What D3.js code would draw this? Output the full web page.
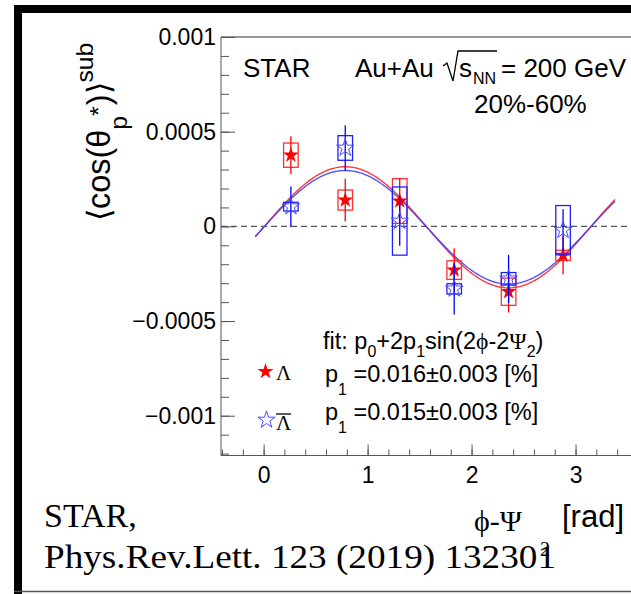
<!DOCTYPE html>
<html>
<head>
<meta charset="utf-8">
<script src="https://cdn.jsdelivr.net/npm/d3@7"></script>
<style>
  body { margin: 0; background: #fff; }
  text { font-family: "Liberation Sans", Arial, sans-serif; }
  .serif { font-family: "Liberation Serif", "Times New Roman", serif; }
</style>
</head>
<body>
<svg id="myGraph" width="631" height="594"></svg>
<script>
// phi - Psi2 bin centres [rad]
var phiBins = [0.262, 0.785, 1.309, 1.833, 2.356, 2.880];

// Lambda
var lamVal  = [0.000376, 0.000139, 0.000134, -0.000231, -0.000345, -0.000153];
var lamStat = [0.000100, 0.000113, 0.000120, 0.000116, 0.000110, 0.000100];
var lamSys  = [0.000064, 0.000053, 0.000118, 0.000049, 0.000072, 0.000027];

// anti-Lambda
var alamVal  = [0.000104, 0.000414, 0.000028, -0.000330, -0.000277, -0.000020];
var alamStat = [0.000107, 0.000120, 0.000130, 0.000136, 0.000127, 0.000110];
var alamSys  = [0.000023, 0.000065, 0.000180, 0.000027, 0.000033, 0.000130];

// fit p0 + 2 p1 sin(2(phi-Psi2)) : [Lambda, anti-Lambda]
var fitP0 = [-0.000005, -0.000005];
var fitP1 = [0.00016, 0.00015];
var fitRange = [-0.08, 3.38];

var yTicks = [-0.001, -0.0005, 0, 0.0005, 0.001];
var yTickLabels = ['\u22120.001', '\u22120.0005', '0', '0.0005', '0.001'];
var xTicks = [0, 1, 2, 3];

var svg = d3.select('#myGraph');

var x = d3.scaleLinear().domain([-0.41, 3.62]).range([221, 640]);
var y = d3.scaleLinear().domain([-0.00121, 0.001]).range([455.5, 37]);

// outer frame
svg.append('rect').attr('x', 14).attr('y', 5).attr('width', 640).attr('height', 8).attr('fill', '#000');
svg.append('rect').attr('x', 14).attr('y', 5).attr('width', 8).attr('height', 589).attr('fill', '#000');
svg.append('line').attr('x1', 14).attr('x2', 631).attr('y1', 591.5).attr('y2', 591.5)
  .attr('stroke', '#555').attr('stroke-width', 1.5);

// plot frame top
svg.append('line').attr('x1', 221).attr('x2', 640).attr('y1', 37).attr('y2', 37)
  .attr('stroke', '#333').attr('stroke-width', 1);

// minor ticks
var yMinor = d3.range(-12, 11).map(function(i) { return i * 0.0001; });
svg.append('g')
  .attr('transform', 'translate(221,0)')
  .call(d3.axisLeft(y).tickValues(yMinor).tickSize(-8).tickFormat(''))
  .call(function(g) { g.select('.domain').remove(); g.selectAll('line').attr('stroke', '#555'); });

var xMinor = d3.range(-2, 18).map(function(i) { return i * 0.2; });
svg.append('g')
  .attr('transform', 'translate(0,455.5)')
  .call(d3.axisBottom(x).tickValues(xMinor).tickSize(-6).tickFormat(''))
  .call(function(g) { g.select('.domain').remove(); g.selectAll('line').attr('stroke', '#555'); });

// major axes
var yAxis = svg.append('g')
  .attr('transform', 'translate(221,0)')
  .call(d3.axisLeft(y).tickValues(yTicks).tickSize(-14).tickPadding(5)
    .tickFormat(function(d, i) { return yTickLabels[i]; }));
yAxis.select('.domain').attr('d', 'M0,37V455.5').attr('stroke', '#555');
yAxis.selectAll('line').attr('stroke', '#555');
yAxis.selectAll('text').attr('font-size', 23).attr('fill', '#000')
  .style('font-family', '"Liberation Sans", Arial, sans-serif');

var xAxis = svg.append('g')
  .attr('transform', 'translate(0,455.5)')
  .call(d3.axisBottom(x).tickValues(xTicks).tickSize(-11).tickPadding(11).tickFormat(d3.format('d')));
xAxis.select('.domain').attr('d', 'M221,0H640').attr('stroke', '#555');
xAxis.selectAll('line').attr('stroke', '#555');
xAxis.selectAll('text').attr('font-size', 23).attr('fill', '#000')
  .style('font-family', '"Liberation Sans", Arial, sans-serif');

// zero line
svg.append('line')
  .attr('x1', x.range()[0]).attr('x2', 640)
  .attr('y1', y(0)).attr('y2', y(0))
  .attr('stroke', '#555').attr('stroke-width', 1.2).attr('stroke-dasharray', '6,4');

// fit curves
var fitX = d3.range(fitRange[0], fitRange[1] + 0.001, 0.01);
var line = d3.line()
  .x(function(d) { return x(d[0]); })
  .y(function(d) { return y(d[1]); });
var fitColors = ['#ff3b3b', '#3636ff'];
[0, 1].forEach(function(k) {
  var pts = fitX.map(function(v) { return [v, fitP0[k] + 2 * fitP1[k] * Math.sin(2 * v)]; });
  svg.append('path')
    .attr('d', line(pts))
    .attr('fill', 'none')
    .attr('stroke', fitColors[k])
    .attr('stroke-width', 1.4)
    .attr('opacity', k === 1 ? 0.85 : 1);
});

// data series
var series = [
  { val: lamVal, stat: lamStat, sys: lamSys, color: '#ff0000', boxColor: '#ff3030', filled: true },
  { val: alamVal, stat: alamStat, sys: alamSys, color: '#0000ff', boxColor: '#2020ff', filled: false }
];
var boxHalf = 0.07;
var starFilled = d3.symbol().type(d3.symbolStar).size(78);
var starOpen = d3.symbol().type(d3.symbolStar).size(94);

series.forEach(function(s) {
  var g = svg.append('g');
  var pts = phiBins.map(function(p, i) { return { x: p, v: s.val[i], e: s.stat[i], sy: s.sys[i] }; });

  g.selectAll('rect.sys').data(pts).enter().append('rect')
    .attr('x', function(d) { return x(d.x - boxHalf); })
    .attr('width', function(d) { return x(d.x + boxHalf) - x(d.x - boxHalf); })
    .attr('y', function(d) { return y(d.v + d.sy); })
    .attr('height', function(d) { return y(d.v - d.sy) - y(d.v + d.sy); })
    .attr('fill', 'none')
    .attr('stroke', s.boxColor)
    .attr('stroke-width', 1.3);

  g.selectAll('line.stat').data(pts).enter().append('line')
    .attr('x1', function(d) { return x(d.x); })
    .attr('x2', function(d) { return x(d.x); })
    .attr('y1', function(d) { return y(d.v + d.e); })
    .attr('y2', function(d) { return y(d.v - d.e); })
    .attr('stroke', s.color)
    .attr('stroke-width', 1.3);

  g.selectAll('path.m').data(pts).enter().append('path')
    .attr('transform', function(d) { return 'translate(' + x(d.x) + ',' + y(d.v) + ')'; })
    .attr('d', s.filled ? starFilled() : starOpen())
    .attr('fill', s.filled ? s.color : 'none')
    .attr('stroke', s.filled ? 'none' : '#4a4aff')
    .attr('stroke-width', 1);
});

// text helper: segments with sub/sup shifts
function richText(parent, xPos, yPos, size, subShift, segs) {
  var t = parent.append('text').attr('x', xPos).attr('y', yPos).attr('font-size', size).attr('fill', '#000');
  var shift = 0;
  segs.forEach(function(s) {
    var target = s.sub ? subShift : 0;
    var ts = t.append('tspan').attr('dy', target - shift).text(s.t);
    if (s.sub) ts.attr('font-size', size * 0.68);
    if (s.serif) ts.attr('class', 'serif');
    shift = target;
  });
  return t;
}

// header
svg.append('text').attr('x', 243).attr('y', 77).attr('font-size', 26).text('STAR');
svg.append('text').attr('x', 355).attr('y', 77).attr('font-size', 26).text('Au+Au');
svg.append('path').attr('d', 'M443,66 L447,63 L453,81 L458,51 L497,51')
  .attr('fill', 'none').attr('stroke', '#000').attr('stroke-width', 1.3);
svg.append('text').attr('x', 459).attr('y', 77).attr('font-size', 26).text('s');
svg.append('text').attr('x', 473).attr('y', 84).attr('font-size', 16).text('NN');
svg.append('text').attr('x', 501).attr('y', 77).attr('font-size', 26).text('= 200 GeV');
svg.append('text').attr('x', 474).attr('y', 113).attr('font-size', 26).text('20%-60%');

// fit legend
richText(svg, 323, 349, 23.5, 8, [
  { t: 'fit: p' }, { t: '0', sub: true }, { t: '+2p' }, { t: '1', sub: true },
  { t: 'sin(2' }, { t: '\u03d5', serif: true }, { t: '-2' }, { t: '\u03a8', serif: true },
  { t: '2', sub: true }, { t: ')' }
]);
richText(svg, 325, 382, 23.5, 13, [
  { t: 'p' }, { t: '1', sub: true }, { t: ' =0.016\u00b10.003 [%]' }
]);
richText(svg, 325, 420, 23.5, 13, [
  { t: 'p' }, { t: '1', sub: true }, { t: ' =0.015\u00b10.003 [%]' }
]);
svg.append('path').attr('transform', 'translate(265.5,371.5)').attr('d', d3.symbol().type(d3.symbolStar).size(80)())
  .attr('fill', '#ff0000');
svg.append('text').attr('class', 'serif').attr('x', 276).attr('y', 380).attr('font-size', 21).text('\u039b');
svg.append('path').attr('transform', 'translate(266.5,420)').attr('d', d3.symbol().type(d3.symbolStar).size(92)())
  .attr('fill', 'none').attr('stroke', '#4a4aff').attr('stroke-width', 1);
svg.append('text').attr('class', 'serif').attr('x', 276).attr('y', 430).attr('font-size', 21).text('\u039b');
svg.append('line').attr('x1', 276).attr('x2', 291).attr('y1', 414).attr('y2', 414)
  .attr('stroke', '#000').attr('stroke-width', 1.3);

// y title (rotated), stretched to span the reference extent
var ytBottom = 221, ytTop = 42;
var yt = svg.append('g');
var ytText = yt.append('text').attr('x', 0).attr('y', 0).attr('font-size', 25);
ytText.append('tspan').text('\u27e8cos(\u03b8');
ytText.append('tspan').attr('dy', 13).attr('font-size', 19).text('p');
ytText.append('tspan').attr('dy', -15).attr('font-size', 19).text('*');
ytText.append('tspan').attr('dy', 2).attr('dx', 1).text(')\u27e9');
ytText.append('tspan').attr('dy', -13).attr('font-size', 19).text('sub');
var ytLen = ytText.node().getComputedTextLength();
yt.attr('transform', 'translate(110,' + ytBottom + ') rotate(-90) scale(' + ((ytBottom - ytTop) / ytLen) + ',1.3)');

// x title
svg.append('text').attr('class', 'serif').attr('x', 474).attr('y', 531).attr('font-size', 30).text('\u03d5-\u03a8');
svg.append('text').attr('class', 'serif').attr('x', 540).attr('y', 556).attr('font-size', 20).text('2');
svg.append('text').attr('x', 562).attr('y', 527).attr('font-size', 31).text('[rad]');

// citation
svg.append('text').attr('class', 'serif').attr('x', 44).attr('y', 527).attr('font-size', 34).text('STAR,');
svg.append('text').attr('class', 'serif').attr('x', 44).attr('y', 568).attr('font-size', 33)
  .attr('textLength', 512).attr('lengthAdjust', 'spacingAndGlyphs')
  .text('Phys.Rev.Lett. 123 (2019) 132301');
</script>
</body>
</html>
